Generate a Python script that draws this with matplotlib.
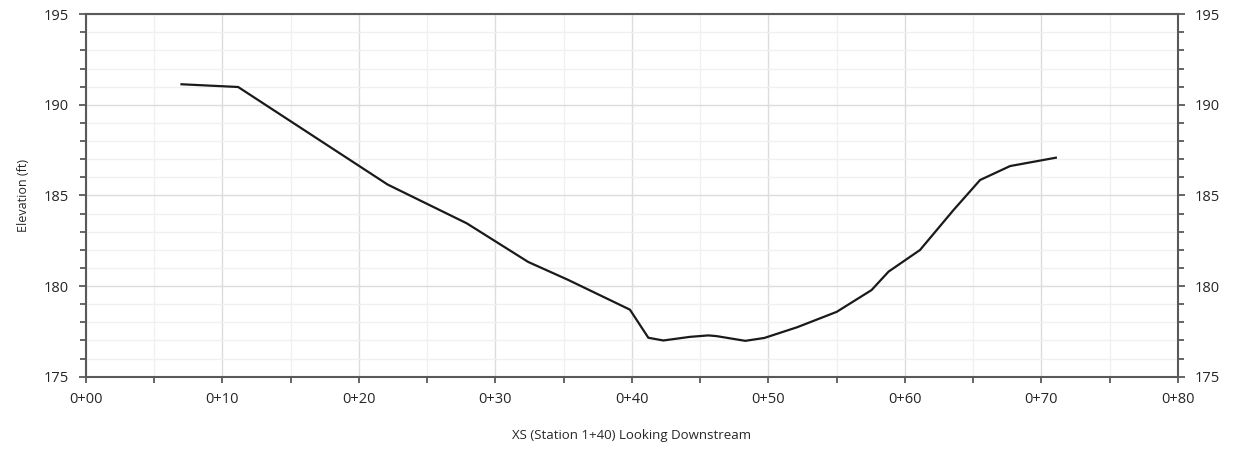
import matplotlib.pyplot as plt
from matplotlib.ticker import MultipleLocator, FuncFormatter

# cross-section survey: station (ft from left bank) and ground elevation (ft)
station = [7.0, 11.15, 22.1, 27.9, 32.4, 35.3, 39.85, 41.2, 42.3, 44.25, 45.6,
           46.2, 48.3, 49.7, 52.1, 55.0, 57.55, 58.8, 61.1, 63.55, 65.5, 67.7, 71.05]
elev = [191.13, 190.98, 185.6, 183.46, 181.33, 180.35, 178.7, 177.15, 177.0,
        177.2, 177.28, 177.24, 176.98, 177.14, 177.73, 178.58, 179.78, 180.8,
        181.99, 184.19, 185.85, 186.62, 187.08]

txt = '#262626'
plt.rcParams['font.family'] = ['Open Sans', 'DejaVu Sans']

fig = plt.figure(figsize=(12.33, 4.55), dpi=100)
ax = fig.add_axes([0.0697, 0.172, 0.8857, 0.797])

ax.plot(station, elev, color='#1a1a1a', lw=1.6, zorder=3)

ax.set_xlim(0, 80)
ax.set_ylim(175, 195)
ax.xaxis.set_major_locator(MultipleLocator(10))
ax.xaxis.set_minor_locator(MultipleLocator(5))
ax.yaxis.set_major_locator(MultipleLocator(5))
ax.yaxis.set_minor_locator(MultipleLocator(1))
ax.xaxis.set_major_formatter(FuncFormatter(lambda v, p: '%d+%02d' % (v // 100, v % 100)))

ax.grid(which='major', color='#dcdcdc', lw=1.0, zorder=0)
ax.grid(which='minor', color='#f0f0f0', lw=1.0, zorder=0)

for s in ax.spines.values():
    s.set_color('#595959')
    s.set_linewidth(1.5)

ax.tick_params(which='both', direction='out', color='#595959', width=1.3,
               labelsize=10.5, labelcolor=txt, right=True, labelright=True)
ax.tick_params(which='major', length=5, pad=7)
ax.tick_params(which='minor', length=4)
ax.tick_params(axis='x', which='both', length=4, pad=7)

ax.set_ylabel('Elevation (ft)', fontsize=9, color=txt, labelpad=10)
ax.set_xlabel('XS (Station 1+40) Looking Downstream', fontsize=9.5, color=txt, labelpad=16)

fig.savefig('out.png', dpi=100)
